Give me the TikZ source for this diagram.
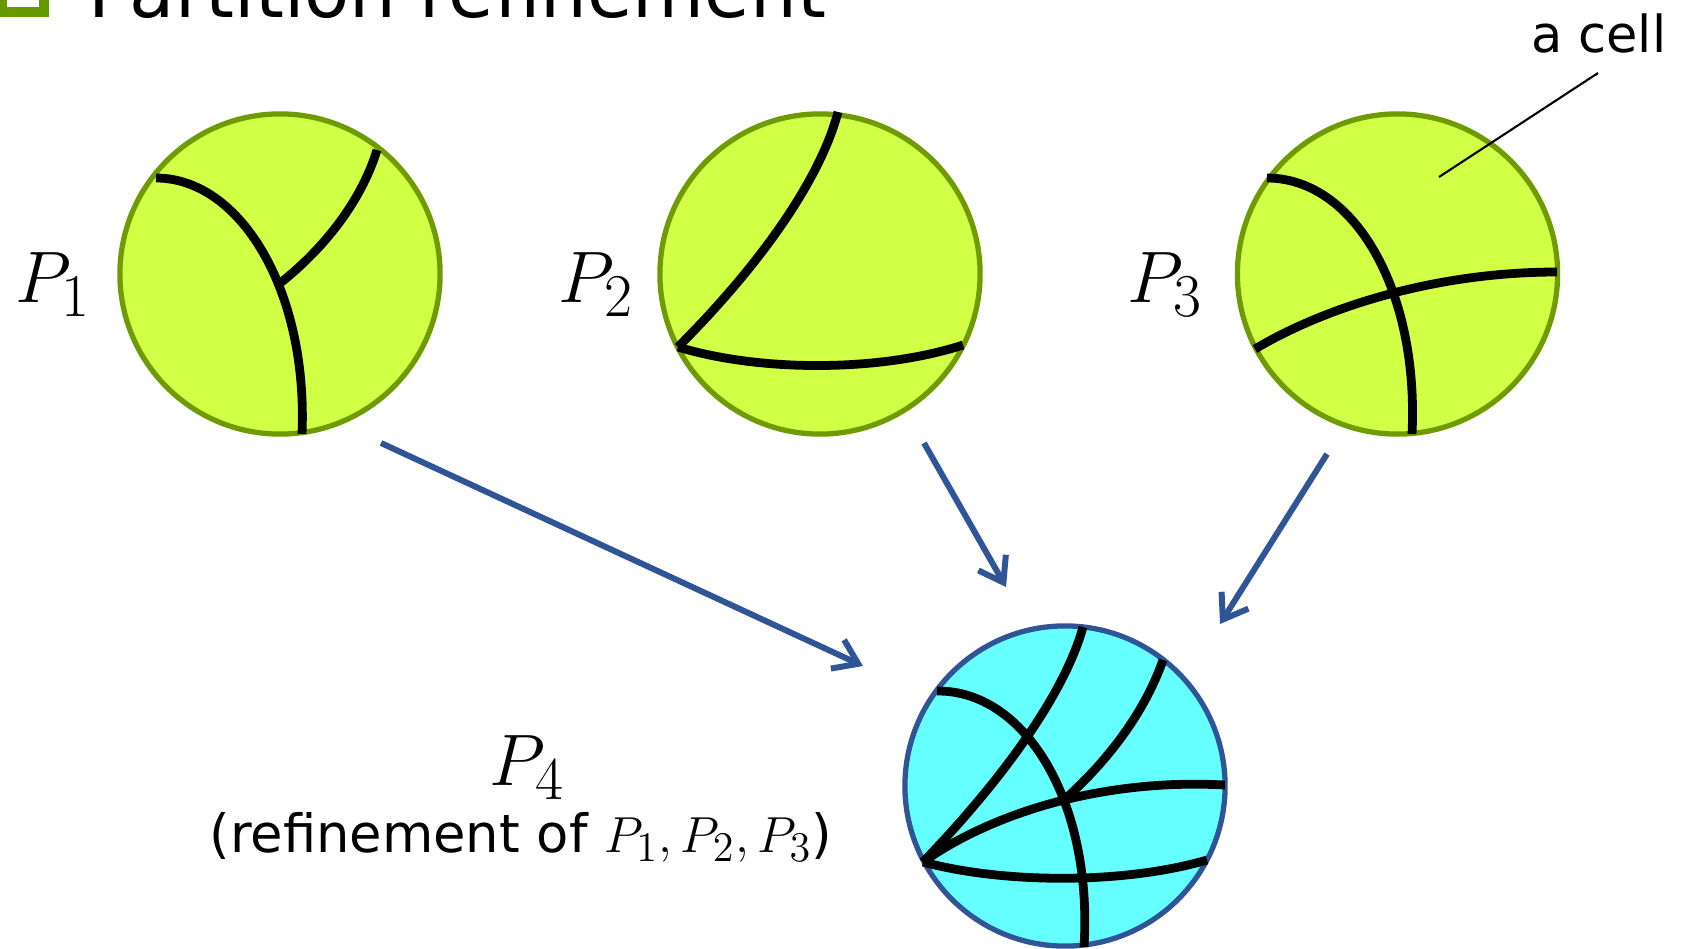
\documentclass[tikz,border=0pt]{standalone}
\usepackage[no-math]{fontspec}
\setmainfont{DejaVu Sans}
\usetikzlibrary{arrows.meta}
\DeclareMathSizes{21}{21}{17}{12}
\DeclareMathSizes{15}{15}{12}{8}
\definecolor{cellgreen}{RGB}{208,255,69}
\definecolor{rimgreen}{RGB}{112,155,0}
\definecolor{bulletgreen}{RGB}{102,153,0}
\definecolor{cellcyan}{RGB}{102,255,255}
\definecolor{rimblue}{RGB}{47,85,151}
\tikzset{
  part/.style={circle, draw=rimgreen, fill=cellgreen, line width=1.5pt, minimum size=3.2cm, inner sep=0pt},
  refined/.style={circle, draw=rimblue, fill=cellcyan, line width=1.5pt, minimum size=3.2cm, inner sep=0pt},
  cut/.style={line width=2.5pt, black},
  flow/.style={draw=rimblue, line width=1.7pt, -{Straight Barb[length=6.5pt,width=9pt]}},
  plabel/.style={font=\fontsize{21}{25}\selectfont, inner sep=0pt, anchor=base west},
  leader/.style={line width=0.6pt, black},
}
\begin{document}
\begin{tikzpicture}[x=0.01cm, y=-0.01cm]
\useasboundingbox (0,0) rectangle (1682,948);
\clip (0,0) rectangle (1682,948);

% title (cut off at top, as in the reference)
\draw[bulletgreen, line width=2.83pt] (2,-30) rectangle (44,12);
\node[anchor=base west, inner sep=0pt, font=\fontsize{21}{25}\selectfont] (title) at (88,17) {Partition refinement};

% partitions
\node[part] (c1) at (280,274) {};
\node[part] (c2) at (820,274) {};
\node[part] (c3) at (1397.5,274) {};
\node[refined] (c4) at (1065,786) {};

% P1 cuts
\draw[cut] (156,178) .. controls (240,178) and (308,290) .. (302,434);
\draw[cut] (279,284) .. controls (320,252) and (360,205) .. (377,150);
% P2 cuts
\draw[cut] (838,112) .. controls (820,180) and (760,265) .. (678,347);
\draw[cut] (678,347) .. controls (760,372) and (880,372) .. (963,345);
% P3 cuts
\draw[cut] (1267,178) .. controls (1354,178) and (1419,290) .. (1412,434);
\draw[cut] (1255,349) .. controls (1320,310) and (1430,272) .. (1557,272);
% P4 cuts
\draw[cut] (937,691) .. controls (1025,690) and (1093,802) .. (1084,947);
\draw[cut] (1065,799) .. controls (1103,765) and (1143,717) .. (1163,660);
\draw[cut] (1083,627) .. controls (1065,692) and (1005,777) .. (923,862);
\draw[cut] (923,862) .. controls (987.5,816) and (1097.5,778) .. (1225,785);
\draw[cut] (923,862) .. controls (1005,884) and (1125,884) .. (1207,860);

% labels
\node[plabel] (l1) at (15,302) {$P_1$};
\node[plabel] (l2) at (558,302) {$P_2$};
\node[plabel] (l3) at (1127,302) {$P_3$};
\node[plabel] (l4) at (489,785) {$P_4$};
\node[anchor=base, inner sep=0pt, font=\fontsize{15}{18}\selectfont] (ref) at (521,852) {(refinement of $P_1,P_2,P_3$)};

% a cell
\node[anchor=base east, inner sep=0pt, font=\fontsize{14.5}{17}\selectfont] (cell) at (1667,52) {a cell};
\coordinate (cellfrom) at (1598,73);
\coordinate (cellpt) at (1439,177);
\draw[leader] (cellfrom) -- (cellpt);

% arrows
\coordinate (a1s) at (381,443);
\coordinate (a1e) at (863,666);
\coordinate (a2s) at (924,443);
\coordinate (a2e) at (1006,587);
\coordinate (a3s) at (1327,454);
\coordinate (a3e) at (1220,624);
\draw[flow] (a1s) -- (a1e);
\draw[flow] (a2s) -- (a2e);
\draw[flow] (a3s) -- (a3e);
\end{tikzpicture}
\end{document}
